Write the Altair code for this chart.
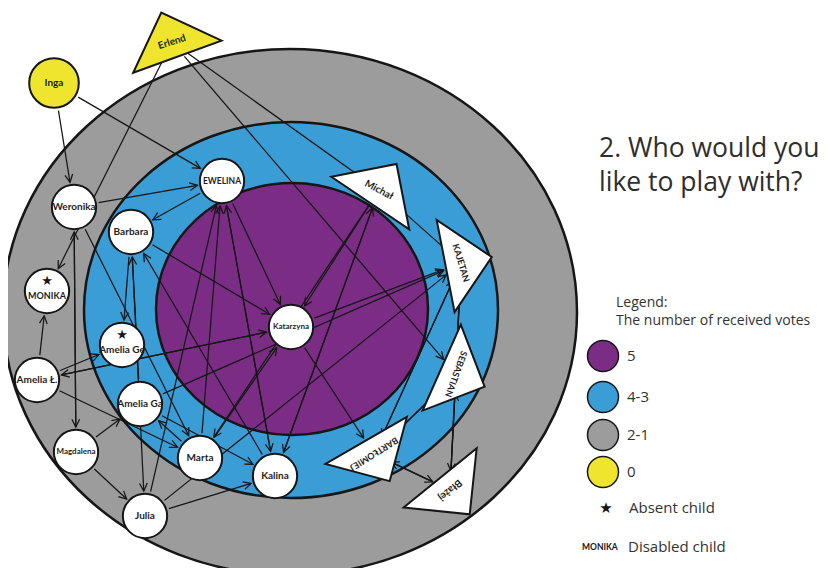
import math
import altair as alt
import pandas as pd

# ---------------- data ----------------
title_lines = ["2. Who would you", "like to play with?"]
legend_heading = ["Legend:", "The number of received votes"]
vote_groups = ["5", "4-3", "2-1", "0"]
extra_items = ["Absent child", "Disabled child"]
disabled_example = "MONIKA"

ring_groups = ["2-1", "4-3", "5"]

girl_names = ["Inga", "Ewelina", "Weronika", "Barbara", "Monika", "Amelia Ge",
              "Amelia Ł.", "Amelia Ga", "Magdalena", "Marta", "Kalina", "Julia", "Katarzyna"]
girl_labels = ["Inga", "EWELINA", "Weronika", "Barbara", "MONIKA", "Amelia Ge",
               "Amelia Ł.", "Amelia Ga", "Magdalena", "Marta", "Kalina", "Julia", "Katarzyna"]
girl_group = ["0", "4-3", "2-1", "4-3", "2-1", "4-3", "2-1", "4-3", "2-1", "4-3", "4-3", "2-1", "5"]
absent_children = ["Monika", "Amelia Ge"]

boy_names = ["Erlend", "Michał", "Kajetan", "Sebastian", "Bartłomiej", "Błażej"]
boy_labels = ["Erlend", "Michał", "KAJETAN", "SEBASTIAN", "BARTŁOMIEJ", "Błażej"]
boy_group = ["0", "4-3", "4-3", "4-3", "4-3", "2-1"]

edge_from = ["Inga", "Inga", "Erlend", "Erlend", "Erlend",
             "Weronika", "Weronika", "Weronika",
             "Ewelina", "Ewelina", "Ewelina",
             "Barbara", "Barbara", "Barbara",
             "Amelia Ł.", "Amelia Ł.", "Amelia Ł.", "Amelia Ł.",
             "Magdalena", "Magdalena", "Magdalena",
             "Amelia Ga", "Amelia Ga", "Amelia Ga",
             "Marta", "Marta", "Marta",
             "Kalina", "Kalina", "Kalina",
             "Julia", "Julia", "Julia",
             "Katarzyna", "Katarzyna", "Katarzyna",
             "Michał", "Michał", "Michał",
             "Kajetan", "Kajetan", "Kajetan",
             "Sebastian", "Sebastian", "Sebastian",
             "Bartłomiej", "Bartłomiej", "Bartłomiej",
             "Błażej", "Błażej", "Błażej"]
edge_to = ["Ewelina", "Weronika", "Monika", "Michał", "Sebastian",
           "Ewelina", "Magdalena", "Marta",
           "Barbara", "Katarzyna", "Kalina",
           "Katarzyna", "Amelia Ge", "Julia",
           "Katarzyna", "Amelia Ge", "Monika", "Marta",
           "Amelia Ga", "Weronika", "Julia",
           "Barbara", "Kajetan", "Kalina",
           "Ewelina", "Katarzyna", "Amelia Ga",
           "Ewelina", "Barbara", "Michał",
           "Kalina", "Kajetan", "Ewelina",
           "Kajetan", "Amelia Ł.", "Bartłomiej",
           "Katarzyna", "Kalina", "Marta",
           "Sebastian", "Bartłomiej", "Michał",
           "Kajetan", "Bartłomiej", "Błażej",
           "Błażej", "Kajetan", "Sebastian",
           "Sebastian", "Bartłomiej", "Kajetan"]

# ---------------- layout (positions in page pixels) ----------------
ring_cx = [290, 291, 292]
ring_cy = [312, 310, 309]
ring_rx = [287, 207, 136]
ring_ry = [263, 188, 126]

girl_x = [54, 222, 74, 131, 47, 122, 37, 140, 76, 200, 275, 145, 291]
girl_y = [83, 181, 207, 232, 291, 345, 380, 404, 452, 458, 476, 516, 327]

boy_x = [172, 379, 461, 456, 374, 450]
boy_y = [42, 190, 263, 374, 454, 490]
boy_heading = [340, 34, 79, 114, 150, 141]
boy_text_angle = [342, 28, 73, 110, 148, 140]

# ---------------- styles ----------------
group_color = {"5": "#7b2d86", "4-3": "#3a9dd6", "2-1": "#9c9c9c", "0": "#efe52f"}
INK = "#161616"
W, H = 823, 560
X0, Y0 = 8, 8
xs = alt.Scale(domain=[X0, X0 + W], nice=False, zero=False)
ys = alt.Scale(domain=[Y0, Y0 + H], nice=False, zero=False, reverse=True)


def XY(xf="x", yf="y"):
    return dict(x=alt.X(f"{xf}:Q", scale=xs, axis=None),
                y=alt.Y(f"{yf}:Q", scale=ys, axis=None))


def ellipse_path(k):
    K = 0.5523
    a, b = K * k, k
    return (f"M -1 0 C -1 {-a:.4f} {-K} {-b:.4f} 0 {-b:.4f} "
            f"C {K} {-b:.4f} 1 {-a:.4f} 1 0 "
            f"C 1 {a:.4f} {K} {b:.4f} 0 {b:.4f} "
            f"C {-K} {b:.4f} -1 {a:.4f} -1 0 Z")


TRI = "M -1 0.3333 L 1 0.3333 L 0 -0.6667 Z"
ARROW = "M -0.5 1 L 0 0 L 0.5 1"

layers = []

# rings
for g, cx, cy, rx, ry in zip(ring_groups, ring_cx, ring_cy, ring_rx, ring_ry):
    df = pd.DataFrame({"x": [cx], "y": [cy]})
    layers.append(alt.Chart(df).mark_point(
        shape=ellipse_path(ry / rx), size=(2 * rx) ** 2, filled=True,
        fill=group_color[g], stroke=INK, strokeWidth=2.5, opacity=1
    ).encode(**XY()))

# edges
nodes = {}
for n, x, y in zip(girl_names, girl_x, girl_y):
    nodes[n] = (x, y, 28 if n == "Inga" else 25)
for n, x, y in zip(boy_names, boy_x, boy_y):
    nodes[n] = (x, y, 19)

rows = []
for a, b in zip(edge_from, edge_to):
    x1, y1, r1 = nodes[a]
    x2, y2, r2 = nodes[b]
    dx, dy = x2 - x1, y2 - y1
    L = math.hypot(dx, dy)
    ux, uy = dx / L, dy / L
    rows.append(dict(x=x1 + ux * r1, y=y1 + uy * r1,
                     ex=x2 - ux * r2, ey=y2 - uy * r2,
                     ang=math.degrees(math.atan2(ux, -uy)) % 360))
edges = pd.DataFrame(rows)

layers.append(alt.Chart(edges).mark_rule(color=INK, strokeWidth=1.25).encode(
    **XY(), x2="ex:Q", y2="ey:Q"))
layers.append(alt.Chart(edges).mark_point(
    shape=ARROW, size=240, filled=False, stroke=INK, strokeWidth=1.25, opacity=1
).encode(**XY("ex", "ey"), angle=alt.Angle("ang:Q", scale=None)))

# girls (circles)
girls = pd.DataFrame({"x": girl_x, "y": girl_y, "name": girl_names, "label": girl_labels, "group": girl_group})
girls["fillc"] = ["#efe52f" if g == "0" else "white" for g in girls["group"]]
girls["sz"] = [math.pi * (28 if n == "Inga" else 25) ** 2 for n in girls["name"]]
layers.append(alt.Chart(girls).mark_point(
    shape="circle", filled=True, stroke=INK, strokeWidth=2, opacity=1
).encode(**XY(), size=alt.Size("sz:Q", scale=None), fill=alt.Fill("fillc:N", scale=None)))

# boys (triangles)
boys = pd.DataFrame({"x": boy_x, "y": boy_y, "name": boy_names, "label": boy_labels,
                     "group": boy_group, "hd": boy_heading, "ta": boy_text_angle})
boys["fillc"] = ["#efe52f" if g == "0" else "white" for g in boys["group"]]
layers.append(alt.Chart(boys).mark_point(
    shape=TRI, size=94 ** 2, filled=True, stroke=INK, strokeWidth=2, opacity=1
).encode(**XY(), fill=alt.Fill("fillc:N", scale=None), angle=alt.Angle("hd:Q", scale=None)))

# labels
small = {"Katarzyna": 8, "Magdalena": 8, "EWELINA": 8.5, "MONIKA": 9, "KAJETAN": 9,
         "SEBASTIAN": 9, "BARTŁOMIEJ": 9}
lab = pd.concat([
    pd.DataFrame({"x": girls["x"], "y": girls["y"] + [5 if n in absent_children else 0 for n in girls["name"]],
                  "label": girls["label"], "ta": 0}),
    pd.DataFrame({"x": boys["x"], "y": boys["y"], "label": boys["label"], "ta": boys["ta"]}),
], ignore_index=True)
lab["fs"] = [small.get(t, 10) for t in lab["label"]]
layers.append(alt.Chart(lab).mark_text(
    font="Lato", fontWeight="bold", color="#1e1e1e", baseline="middle", align="center"
).encode(**XY(), text="label:N", size=alt.Size("fs:Q", scale=None), angle=alt.Angle("ta:Q", scale=None)))

stars = pd.DataFrame({"x": [girl_x[girl_names.index(n)] for n in absent_children],
                      "y": [girl_y[girl_names.index(n)] - 10 for n in absent_children],
                      "t": ["★"] * len(absent_children)})
layers.append(alt.Chart(stars).mark_text(font="DejaVu Sans", fontSize=13, color=INK, baseline="middle")
              .encode(**XY(), text="t:N"))

# title
title_df = pd.DataFrame({"x": [599, 599], "y": [157, 191], "t": title_lines})
layers.append(alt.Chart(title_df).mark_text(
    font="Open Sans", fontSize=26.5, color="#2e2e2e", align="left", baseline="alphabetic"
).encode(**XY(), text="t:N"))

# legend heading
lh = pd.DataFrame({"x": [616, 616], "y": [307, 325], "t": legend_heading})
layers.append(alt.Chart(lh).mark_text(
    font="Open Sans", fontSize=14, color="#333333", align="left", baseline="alphabetic"
).encode(**XY(), text="t:N"))

# legend swatches
leg_y = [356, 397, 435, 472]
leg = pd.DataFrame({"x": [603] * 4, "y": leg_y, "t": vote_groups})
leg["fillc"] = [group_color[g] for g in vote_groups]
layers.append(alt.Chart(leg).mark_point(
    shape="circle", filled=True, size=math.pi * 17.5 ** 2, stroke=INK, strokeWidth=1.5, opacity=1
).encode(**XY(), fill=alt.Fill("fillc:N", scale=None)))
leg["lx"] = 627
layers.append(alt.Chart(leg).mark_text(
    font="Open Sans", fontSize=15, color="#333333", align="left", baseline="middle"
).encode(**XY("lx", "y"), text="t:N"))

# extra legend items
ex = pd.DataFrame({"x": [629, 628], "y": [508, 547], "t": extra_items})
layers.append(alt.Chart(ex).mark_text(
    font="Open Sans", fontSize=15, color="#333333", align="left", baseline="middle"
).encode(**XY(), text="t:N"))
st = pd.DataFrame({"x": [606], "y": [508], "t": ["★"]})
layers.append(alt.Chart(st).mark_text(font="DejaVu Sans", fontSize=15, color=INK, baseline="middle")
              .encode(**XY(), text="t:N"))
dm = pd.DataFrame({"x": [582], "y": [547], "t": [disabled_example]})
layers.append(alt.Chart(dm).mark_text(
    font="Lato", fontWeight="bold", fontSize=8.5, color=INK, align="left", baseline="middle"
).encode(**XY(), text="t:N"))

chart = alt.layer(*layers).properties(
    width=W, height=H, padding=0, autosize="none", background="white"
).configure_view(stroke=None)

chart.save("out.html", embed_options={"renderer": "svg", "actions": False})
